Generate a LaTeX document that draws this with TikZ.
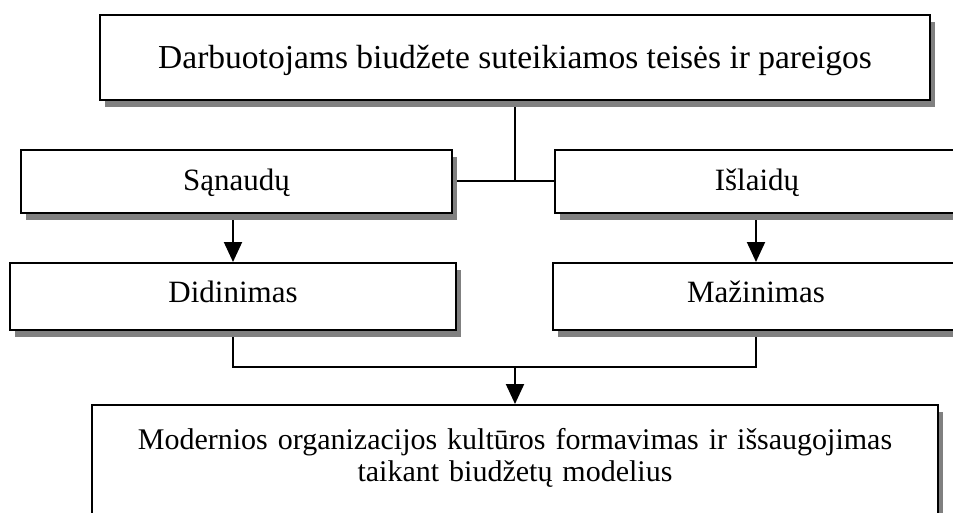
\documentclass[tikz,border=0pt]{standalone}
\usepackage{fontspec}
\setmainfont{Liberation Serif}
\usetikzlibrary{shadows}
\usetikzlibrary{arrows.meta}
\usetikzlibrary{backgrounds}

\begin{document}
\begin{tikzpicture}[%
  x=1pt, y=-1pt,
  block/.style={rectangle,
                draw, line width=2pt,
                fill=white,
                inner sep=0pt,
                drop shadow={fill=black!50, opacity=1,
                             shadow xshift=5pt, shadow yshift=-7pt}
  },
  link/.style={line width=2pt},
  arrow/.style={link, -{Triangle[width=18pt,length=20pt]}}
]
\useasboundingbox (0,0) rectangle (953,512);

\node [block, minimum width=830pt, minimum height=85pt,
   font=\fontsize{33.5}{38}\selectfont, text height=25pt, text depth=4pt]
   (teises) at (515,57.5) {Darbuotojams biudžete suteikiamos teisės ir pareigos};

\node [block, minimum width=431pt, minimum height=63pt,
   font=\fontsize{31}{36}\selectfont, text height=24pt, text depth=5pt]
   (sanaudos) at (236.5,181) {Sąnaudų};
\node [block, minimum width=404pt, minimum height=63pt,
   font=\fontsize{31}{36}\selectfont, text height=24pt, text depth=5pt]
   (islaidos) at (757,181) {Išlaidų};

\node [block, minimum width=446pt, minimum height=67pt,
   font=\fontsize{31}{36}\selectfont, text height=20pt, text depth=8pt]
   (didinimas) at (233,296.5) {Didinimas};
\node [block, minimum width=406pt, minimum height=67pt,
   font=\fontsize{31}{36}\selectfont, text height=20pt, text depth=8pt]
   (mazinimas) at (756,296.5) {Mažinimas};

\node [block, anchor=north, text width=846pt, align=center,
   font=\fontsize{30}{30}\selectfont, text height=44pt, text depth=130pt]
   (kultura) at (515,404) {\fontsize{30}{30}\selectfont
   Modernios organizacijos kultūros formavimas ir išsaugojimas\\[2pt]
   taikant biudžetų modelius};

\begin{scope}[on background layer]
\draw [link] (teises.south) -- (teises.south |- sanaudos.east);
\draw [link] (sanaudos.east) -- (islaidos.west);
\draw [arrow] (didinimas.north |- sanaudos.south) -- (didinimas.north);
\draw [arrow] (mazinimas.north |- islaidos.south) -- (mazinimas.north);
\coordinate (join) at (515,367);
\draw [link] (didinimas.south) -- (didinimas.south |- join)
   -- (mazinimas.south |- join) -- (mazinimas.south);
\draw [arrow] (join) -- (kultura.north);
\end{scope}

\end{tikzpicture}
\end{document}
